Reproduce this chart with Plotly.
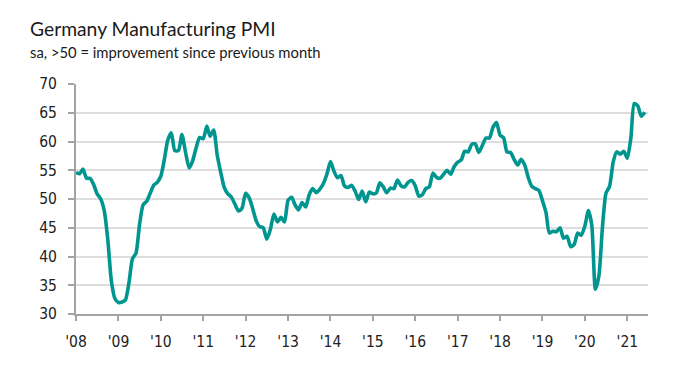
import plotly.graph_objects as go
import pandas as pd

# Monthly Germany Manufacturing PMI, Jan 2008 - Jun 2021
start_month = "2008-01-01"
pmi_2008 = [54.6, 54.4, 55.2, 53.6, 53.6, 52.5, 50.9, 50.0, 47.9, 42.9, 35.7, 32.7]
pmi_2009 = [32.0, 32.1, 32.4, 35.4, 39.6, 40.6, 45.5, 49.0, 49.6, 51.0, 52.4, 52.9]
pmi_2010 = [54.0, 57.0, 60.2, 61.5, 58.4, 58.4, 61.2, 58.2, 55.4, 56.6, 58.9, 60.7]
pmi_2011 = [60.5, 62.7, 60.9, 62.0, 57.7, 54.6, 52.0, 50.9, 50.3, 49.1, 47.9, 48.4]
pmi_2012 = [51.0, 50.2, 48.4, 46.2, 45.2, 45.0, 43.0, 44.7, 47.4, 46.0, 46.8, 46.0]
pmi_2013 = [49.8, 50.3, 49.0, 48.1, 49.4, 48.6, 50.7, 51.8, 51.1, 51.7, 52.7, 54.3]
pmi_2014 = [56.5, 54.8, 53.7, 54.1, 52.3, 52.0, 52.4, 51.4, 49.9, 51.4, 49.5, 51.2]
pmi_2015 = [50.9, 51.1, 52.8, 52.1, 51.1, 51.9, 51.8, 53.3, 52.3, 52.1, 52.9, 53.2]
pmi_2016 = [52.3, 50.5, 50.7, 51.8, 52.1, 54.5, 53.8, 53.6, 54.3, 55.0, 54.3, 55.6]
pmi_2017 = [56.4, 56.8, 58.3, 58.2, 59.5, 59.6, 58.1, 59.3, 60.6, 60.6, 62.5, 63.3]
pmi_2018 = [61.1, 60.6, 58.2, 58.1, 56.9, 55.9, 56.9, 55.9, 53.7, 52.2, 51.8, 51.5]
pmi_2019 = [49.7, 47.6, 44.1, 44.4, 44.3, 45.0, 43.2, 43.5, 41.7, 42.1, 44.1, 43.7]
pmi_2020 = [45.3, 48.0, 45.4, 34.3, 36.6, 45.2, 51.0, 52.2, 56.4, 58.2, 57.8, 58.3]
pmi_2021 = [57.1, 60.7, 66.6, 66.2, 64.4, 65.1]

y_ticks = [30, 35, 40, 45, 50, 55, 60, 65, 70]

title_text = "Germany Manufacturing PMI"
subtitle_text = "sa, >50 = improvement since previous month"

values = (pmi_2008 + pmi_2009 + pmi_2010 + pmi_2011 + pmi_2012 + pmi_2013 + pmi_2014
          + pmi_2015 + pmi_2016 + pmi_2017 + pmi_2018 + pmi_2019 + pmi_2020 + pmi_2021)
dates = pd.date_range(start_month, periods=len(values), freq="MS")

LINE = "#00968F"
GRID = "#dedede"
AXIS = "#a3a3a3"
TICKFONT = dict(family="DejaVu Sans Condensed, DejaVu Sans, sans-serif", size=15.5, color="#222222")

fig = go.Figure()
fig.add_trace(go.Scatter(
    x=dates, y=values, mode="lines",
    line=dict(color=LINE, width=3.6, shape="spline", smoothing=0.6),
    hoverinfo="x+y", showlegend=False,
))

# page has an 8px body margin; positions below are in figure coordinates
OFF = 8
W, H = 677, 365
ml = 76 - OFF
mt = 84 - OFF
mr = W - (648.3 - OFF)
mb = H - (314.3 - OFF)
plot_w = W - ml - mr
plot_h = H - mt - mb

fig.update_layout(
    width=W, height=H,
    margin=dict(l=ml, r=mr, t=mt, b=mb),
    paper_bgcolor="white", plot_bgcolor="white",
    xaxis=dict(
        type="date",
        range=["2008-01-01", "2021-06-28"],
        tick0="2008-01-01", dtick="M12", tickformat="'%y",
        showgrid=False, showline=True, linecolor=AXIS, linewidth=2,
        ticks="outside", ticklen=5, tickwidth=2, tickcolor=AXIS,
        tickfont=TICKFONT, zeroline=False, ticklabelstandoff=7, fixedrange=True,
    ),
    yaxis=dict(
        range=[30, 70], tickvals=y_ticks,
        showgrid=True, gridcolor=GRID, gridwidth=2,
        showline=True, linecolor=AXIS, linewidth=2,
        ticks="outside", ticklen=6, tickwidth=2, tickcolor=AXIS,
        tickfont=TICKFONT, zeroline=False, ticklabelstandoff=8, fixedrange=True,
    ),
    annotations=[
        dict(text=title_text, xref="paper", yref="paper",
             x=(28 - OFF - ml) / plot_w, y=(H - mb - (28.5 - OFF)) / plot_h,
             xanchor="left", yanchor="middle", showarrow=False,
             font=dict(family="Lato, Noto Sans, sans-serif", size=19.3, color="#1a1a1a")),
        dict(text=subtitle_text, xref="paper", yref="paper",
             x=(28 - OFF - ml) / plot_w, y=(H - mb - (52 - OFF)) / plot_h,
             xanchor="left", yanchor="middle", showarrow=False,
             font=dict(family="Lato, Noto Sans, sans-serif", size=14.8, color="#1a1a1a")),
    ],
)

fig.write_html("out.html")
